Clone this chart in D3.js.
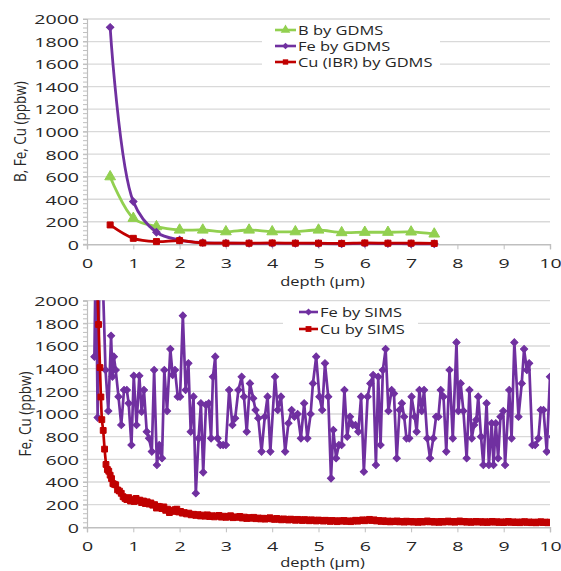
<!DOCTYPE html>
<html><head><meta charset="utf-8">
<script src="https://cdn.jsdelivr.net/npm/d3@7"></script>
<style>
html,body{margin:0;padding:0;background:#fff;}
svg{display:block;}
text{font-family:"Open Sans",sans-serif;fill:#262626;}
</style></head><body>
<svg id="chart" width="561" height="571"></svg>
<script>
// ---- GDMS depth profile (0.5 µm steps) ----
const gdmsDepth = [0.5,1,1.5,2,2.5,3,3.5,4,4.5,5,5.5,6,6.5,7,7.5];
const gdmsB  = [600,231,157,127,127,112,127,112,112,127,104,107,107,110,92];
const gdmsFe = [1926,379,107,38,15,10,8,8,8,6,5,8,6,5,5];
const gdmsCu = [172,53,24,33,12,10,10,12,10,10,8,12,10,10,8];

// ---- SIMS depth profiles: [depth µm, ppbw] ----
const simsFe = [
 [0.16,1506],[0.19,2500],[0.23,968],[0.28,2600],[0.34,2200],[0.40,1388],[0.46,1027],[0.52,1691],
 [0.55,1330],[0.58,1506],[0.62,1388],[0.68,1153],[0.74,903],[0.80,1212],[0.86,1212],[0.90,1094],
 [0.96,726],[1.01,1338],[1.07,903],[1.13,1338],[1.18,1020],[1.23,1212],[1.29,844],[1.34,785],
 [1.40,668],[1.45,1388],[1.51,550],[1.56,726],[1.62,609],[1.67,1388],[1.73,1026],[1.80,1573],
 [1.85,1344],[1.90,1388],[1.96,1153],[2.01,1153],[2.07,1868],[2.13,1212],[2.19,1447],[2.24,844],
 [2.30,1153],[2.35,300],[2.41,785],[2.46,1094],[2.51,485],[2.57,1080],[2.63,1094],[2.68,785],
 [2.72,1329],[2.77,1506],[2.82,785],[2.88,726],[2.94,726],[3.00,726],[3.07,1212],[3.14,903],
 [3.20,962],[3.27,1212],[3.34,1329],[3.39,1153],[3.45,844],[3.52,1270],[3.59,1138],[3.64,1035],
 [3.70,962],[3.77,668],[3.84,976],[3.90,1153],[3.96,668],[4.06,1329],[4.12,1035],[4.19,1153],
 [4.28,668],[4.35,918],[4.42,1035],[4.48,976],[4.55,1000],[4.62,785],[4.69,1094],[4.76,785],
 [4.83,1000],[4.88,1270],[4.95,1506],[5.02,1153],[5.08,1035],[5.14,1447],[5.21,1153],[5.27,432],
 [5.32,859],[5.38,609],[5.44,726],[5.50,726],[5.56,1212],[5.62,800],[5.68,976],[5.74,903],
 [5.80,903],[5.86,844],[5.92,1153],[5.98,491],[6.06,1153],[6.12,1270],[6.18,1344],[6.24,550],
 [6.29,1329],[6.34,726],[6.39,1388],[6.45,1573],[6.51,1026],[6.58,1212],[6.63,1180],[6.69,609],
 [6.75,1035],[6.80,1094],[6.85,976],[6.90,785],[6.96,785],[7.01,1153],[7.08,976],[7.12,844],
 [7.18,1212],[7.23,1026],[7.28,1212],[7.35,785],[7.41,609],[7.48,785],[7.54,976],[7.59,976],
 [7.64,1212],[7.70,1153],[7.76,668],[7.83,1388],[7.90,785],[7.98,1632],[8.02,1026],[8.07,1270],
 [8.13,1026],[8.20,609],[8.26,1212],[8.31,785],[8.36,903],[8.41,950],[8.45,1153],[8.51,800],
 [8.56,550],[8.63,1094],[8.68,550],[8.74,918],[8.78,550],[8.83,918],[8.88,609],[8.93,976],
 [8.99,1026],[9.03,550],[9.12,1212],[9.17,785],[9.23,1632],[9.32,976],[9.39,1270],[9.44,1573],
 [9.50,1388],[9.55,1447],[9.62,726],[9.68,726],[9.75,785],[9.80,1035],[9.86,1035],[9.93,668],
 [10.00,1329],[10.05,800]
];
const simsCu = [
 [0.20,2600],[0.22,2150],[0.25,1790],[0.28,1410],[0.30,1150],[0.32,950],[0.35,855],[0.38,690],
 [0.41,555],[0.44,510],[0.47,495],[0.50,460],[0.53,430],[0.56,385],[0.59,380],[0.62,375],
 [0.66,330],[0.70,320],[0.74,300],[0.78,270],[0.82,255],[0.86,245],[0.90,262],[0.94,232],
 [0.98,245],[1.02,228],[1.06,255],[1.10,235],[1.14,240],[1.18,218],[1.22,232],[1.26,210],
 [1.30,225],[1.34,205],[1.38,215],[1.42,195],[1.46,200],[1.50,170],[1.54,185],[1.58,180],
 [1.62,165],[1.66,180],[1.70,150],[1.74,160],[1.78,130],[1.82,150],[1.86,140],[1.90,155],
 [1.94,160],[1.98,135],[2.02,140],[2.06,125],[2.10,130],[2.15,118],[2.20,125],[2.25,110],
 [2.30,115],[2.35,105],[2.40,112],[2.45,100],[2.50,108],[2.55,98],[2.60,110],[2.65,95],
 [2.70,102],[2.75,92],[2.80,100],[2.85,105],[2.90,90],[2.95,98],[3.00,88],[3.05,95],
 [3.10,102],[3.15,85],[3.20,92],[3.25,88],[3.30,96],[3.35,82],[3.40,90],[3.45,78],
 [3.50,86],[3.55,80],[3.60,88],[3.65,76],[3.70,82],[3.75,74],[3.80,80],[3.85,72],
 [3.90,78],[3.95,84],[4.00,74],[4.05,70],[4.10,78],[4.15,72],[4.20,66],[4.25,74],
 [4.30,70],[4.35,64],[4.40,72],[4.45,68],[4.50,62],[4.55,70],[4.60,66],[4.65,60],
 [4.70,68],[4.75,64],[4.80,58],[4.85,66],[4.90,62],[4.95,56],[5.00,64],[5.05,60],
 [5.10,55],[5.15,62],[5.20,58],[5.25,52],[5.30,60],[5.35,56],[5.40,50],[5.45,58],
 [5.50,54],[5.55,60],[5.60,52],[5.65,57],[5.70,50],[5.75,56],[5.80,62],[5.85,54],
 [5.90,60],[5.95,66],[6.00,58],[6.05,64],[6.10,70],[6.15,60],[6.20,66],[6.25,56],
 [6.30,60],[6.35,52],[6.40,58],[6.45,50],[6.50,55],[6.55,48],[6.60,54],[6.65,50],
 [6.70,56],[6.75,48],[6.80,52],[6.85,46],[6.90,54],[6.95,48],[7.00,52],[7.05,46],
 [7.10,50],[7.15,44],[7.20,52],[7.25,46],[7.30,50],[7.35,56],[7.40,48],[7.45,52],
 [7.50,45],[7.55,50],[7.60,44],[7.65,52],[7.70,46],[7.75,50],[7.80,55],[7.85,47],
 [7.90,52],[7.95,45],[8.00,50],[8.05,56],[8.10,48],[8.15,52],[8.20,45],[8.25,50],
 [8.30,44],[8.35,48],[8.40,52],[8.45,46],[8.50,50],[8.55,44],[8.60,49],[8.65,43],
 [8.70,48],[8.75,52],[8.80,45],[8.85,49],[8.90,43],[8.95,48],[9.00,42],[9.05,47],
 [9.10,51],[9.15,44],[9.20,48],[9.25,42],[9.30,47],[9.35,41],[9.40,46],[9.45,50],
 [9.50,43],[9.55,47],[9.60,41],[9.65,46],[9.70,40],[9.75,45],[9.80,49],[9.85,42],
 [9.90,46],[9.95,40],[10.00,45]
];

const xTicks = [0,1,2,3,4,5,6,7,8,9,10];
const yTicks = [0,200,400,600,800,1000,1200,1400,1600,1800,2000];
const xTitle = "depth (µm)";
const topYTitle = "B, Fe, Cu (ppbw)";
const botYTitle = "Fe, Cu (ppbw)";
const topLegend = ["B by GDMS","Fe by GDMS","Cu (IBR) by GDMS"];
const botLegend = ["Fe by SIMS","Cu by SIMS"];

const GREEN = "#92d050", PURPLE = "#7030a0", RED = "#c00000";
const GRID = "#d9d9d9", AXIS = "#bfbfbf";
const FS = 13.5;        // base font size
const SX_TICK = 1.45;   // horizontal stretch of tick labels
const SX_TEXT = 1.22;   // horizontal stretch of titles / legend

const svg = d3.select("#chart");
const x = d3.scaleLinear().domain([0,10]).range([87,550]);

function stretchText(sel, sx){
  sel.each(function(){
    const t = d3.select(this);
    const tx = +t.attr("x") || 0, ty = +t.attr("y") || 0;
    t.attr("x", null).attr("y", null)
     .attr("transform", `translate(${tx},${ty}) scale(${sx},1)`);
  });
}

function panel(yRange, opt){
  const y = d3.scaleLinear().domain([0,2000]).range(yRange);
  const g = svg.append("g");
  const clipId = opt.id + "-clip";
  g.append("clipPath").attr("id", clipId).append("rect")
    .attr("x", x(0)).attr("y", y(2000) - 0.5)
    .attr("width", x(10) - x(0)).attr("height", y(0) - y(2000) + 6);

  // horizontal gridlines
  g.append("g").selectAll("line").data(yTicks.filter(v => v > 0)).join("line")
    .attr("x1", x(0)).attr("x2", x(10))
    .attr("y1", d => y(d)).attr("y2", d => y(d))
    .attr("stroke", GRID).attr("stroke-width", 1.3);

  // y axis with minor ticks
  const minor = d3.range(0, 2001, 40);
  g.append("g").selectAll("line").data(minor).join("line")
    .attr("x1", x(0) - 4).attr("x2", x(0))
    .attr("y1", d => y(d)).attr("y2", d => y(d))
    .attr("stroke", AXIS).attr("stroke-width", 1);
  const yAx = g.append("g").attr("transform", `translate(${x(0)},0)`)
    .call(d3.axisLeft(y).tickValues(yTicks).tickFormat(d3.format("d")).tickSize(4).tickPadding(8));
  yAx.select(".domain").attr("stroke", AXIS).attr("stroke-width", 1.2);
  yAx.selectAll(".tick line").attr("stroke", AXIS);
  yAx.selectAll("text").attr("font-size", FS).attr("font-family", '"Open Sans",sans-serif')
    .attr("fill", "#262626").attr("dy", "0.36em");
  yAx.selectAll("text").each(function(){
    d3.select(this).attr("x", null).attr("transform", `translate(-8,0) scale(${SX_TICK},1)`);
  });

  // x axis
  const xAx = g.append("g").attr("transform", `translate(0,${y(0)})`)
    .call(d3.axisBottom(x).tickValues(xTicks).tickFormat(d3.format("d")).tickSize(5).tickPadding(6));
  xAx.select(".domain").attr("stroke", AXIS).attr("stroke-width", 1.4);
  xAx.selectAll(".tick line").attr("stroke", AXIS);
  xAx.selectAll("text").attr("font-size", FS).attr("font-family", '"Open Sans",sans-serif')
    .attr("fill", "#262626").attr("dy", "0.95em")
    .attr("transform", `scale(${SX_TICK},1)`);

  // axis titles
  g.append("text").attr("x", (x(0) + x(10)) / 2 + 4).attr("y", y(0) + opt.xTitleDy)
    .attr("text-anchor", "middle").attr("font-size", FS).text(xTitle)
    .call(stretchText, SX_TEXT);
  g.append("text")
    .attr("transform", `translate(${opt.yTitleX},${(y(0)+y(2000))/2}) scale(${SX_TEXT},1) rotate(-90)`)
    .attr("text-anchor", "middle").attr("dy", "0.35em").attr("font-size", FS).text(opt.yTitle);

  return {g, y, clipId};
}

// ---------- upper panel: GDMS ----------
{
  const {g, y, clipId} = panel([244.3, 19], {
    id: "gdms", xTitleDy: 42, yTitleX: 20, yTitle: topYTitle
  });
  const series = [
    {vals: gdmsB,  color: GREEN,  sym: d3.symbolTriangle, size: 50, rot: 0},
    {vals: gdmsFe, color: PURPLE, sym: d3.symbolSquare,   size: 28, rot: 45},
    {vals: gdmsCu, color: RED,    sym: d3.symbolSquare,   size: 36, rot: 0}
  ];
  const line = d3.line().curve(d3.curveCatmullRom.alpha(0.5))
    .x((d,i) => x(gdmsDepth[i])).y(d => y(d));
  const plot = g.append("g").attr("clip-path", `url(#${clipId})`);
  series.forEach(s => {
    plot.append("path").datum(s.vals).attr("d", line)
      .attr("fill", "none").attr("stroke", s.color).attr("stroke-width", 2.8);
    plot.append("g").selectAll("path").data(s.vals).join("path")
      .attr("d", d3.symbol().type(s.sym).size(s.size))
      .attr("transform", (d,i) => `translate(${x(gdmsDepth[i])},${y(d)}) rotate(${s.rot})`)
      .attr("fill", s.color).attr("stroke", s.color).attr("stroke-width", 1);
  });

  // legend
  const lg = g.append("g");
  lg.append("rect").attr("x", 262).attr("y", 22).attr("width", 178).attr("height", 48).attr("fill", "#fff");
  const rows = [30, 46, 62];
  topLegend.forEach((name, i) => {
    const s = series[i], ry = rows[i];
    lg.append("line").attr("x1", 275).attr("x2", 296).attr("y1", ry).attr("y2", ry)
      .attr("stroke", s.color).attr("stroke-width", 2.6);
    lg.append("path").attr("d", d3.symbol().type(s.sym).size(s.size * 0.8))
      .attr("transform", `translate(285.5,${ry}) rotate(${s.rot})`).attr("fill", s.color);
    lg.append("text").attr("x", 298).attr("y", ry).attr("dy", "0.36em")
      .attr("font-size", FS).text(name).call(stretchText, SX_TEXT);
  });
}

// ---------- lower panel: SIMS ----------
{
  const {g, y, clipId} = panel([527.3, 300.7], {
    id: "sims", xTitleDy: 40, yTitleX: 25, yTitle: botYTitle
  });
  const series = [
    {vals: simsFe, color: PURPLE, sym: d3.symbolSquare, size: 26, rot: 45},
    {vals: simsCu, color: RED,    sym: d3.symbolSquare, size: 34, rot: 0}
  ];
  const line = d3.line().x(d => x(d[0])).y(d => y(d[1]));
  const plot = g.append("g").attr("clip-path", `url(#${clipId})`);
  series.forEach(s => {
    plot.append("path").datum(s.vals).attr("d", line)
      .attr("fill", "none").attr("stroke", s.color).attr("stroke-width", 2.7)
      .attr("stroke-linejoin", "round");
    plot.append("g").selectAll("path").data(s.vals).join("path")
      .attr("d", d3.symbol().type(s.sym).size(s.size))
      .attr("transform", d => `translate(${x(d[0])},${y(d[1])}) rotate(${s.rot})`)
      .attr("fill", s.color).attr("stroke", s.color).attr("stroke-width", 1);
  });

  const lg = g.append("g");
  lg.append("rect").attr("x", 283).attr("y", 304).attr("width", 135).attr("height", 36).attr("fill", "#fff");
  const rows = [312, 329];
  botLegend.forEach((name, i) => {
    const s = series[i], ry = rows[i];
    lg.append("line").attr("x1", 299).attr("x2", 318).attr("y1", ry).attr("y2", ry)
      .attr("stroke", s.color).attr("stroke-width", 2.6);
    lg.append("path").attr("d", d3.symbol().type(s.sym).size(s.size))
      .attr("transform", `translate(308.5,${ry}) rotate(${s.rot})`).attr("fill", s.color);
    lg.append("text").attr("x", 320).attr("y", ry).attr("dy", "0.36em")
      .attr("font-size", FS).text(name).call(stretchText, SX_TEXT);
  });
}
</script>
</body></html>
